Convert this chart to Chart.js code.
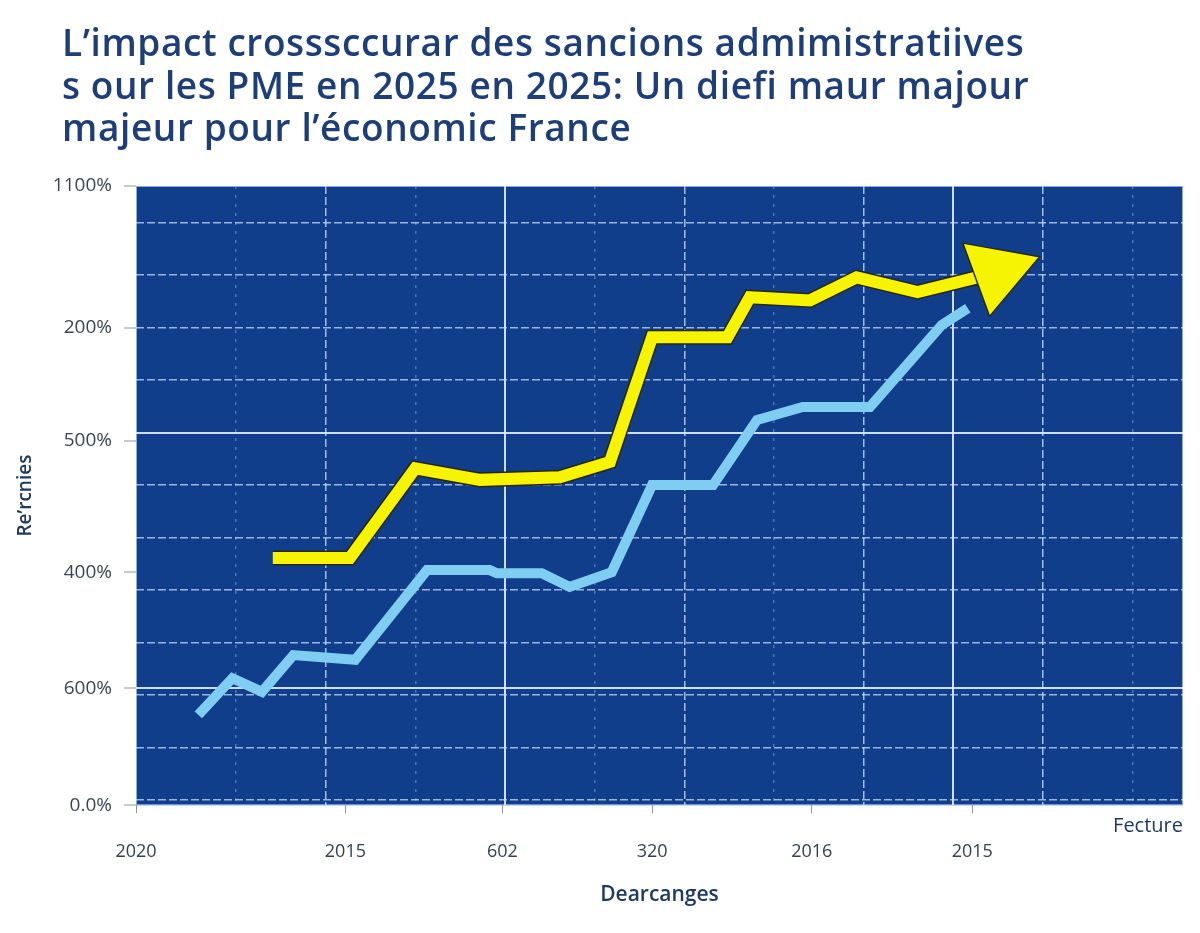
<!DOCTYPE html>
<html lang="fr">
<head>
<meta charset="utf-8">
<title>Sanctions administratives PME 2025</title>
<script src="https://cdn.jsdelivr.net/npm/chart.js@4.4.1/dist/chart.umd.min.js"></script>
<style>
  html, body { margin: 0; padding: 0; background: #ffffff; overflow: hidden; }
  #wrap { position: relative; width: 1200px; height: 933px; }
  #wrap canvas { display: block; }
  #chartTitle {
    position: absolute; left: 62px; top: 21px; margin: 0;
    font-family: 'Open Sans', 'Noto Sans', sans-serif;
    font-size: 37px; font-weight: 600; line-height: 42.5px; letter-spacing: 0.6px;
    color: #1d3e78; white-space: nowrap;
  }
</style>
</head>
<body>
<div id="wrap">
  <canvas id="impactChart" width="1200" height="933"></canvas>
  <h1 id="chartTitle"></h1>
</div>
<script>
// Chart data
const titleLines = [
  'L’impact crosssccurar des sancions admimistratiives',
  's our les PME en 2025 en 2025: Un diefi maur majour',
  'majeur pour l’économic France'
];
const xTickValues = [-0.115, 2.22, 3.97, 5.64, 7.42, 9.21];
const xTickLabels = ['2020', '2015', '602', '320', '2016', '2015'];
const yTickValues = [-0.1, 2.13, 4.34, 6.84, 9.0, 11.7];
const yTickLabels = ['0.0%', '600%', '400%', '500%', '200%', '1100%'];

const blueX = [0.58, 0.96, 1.29, 1.64, 2.33, 3.13, 3.83, 3.91, 4.41, 4.72, 5.19, 5.64, 6.32, 6.81, 7.32, 8.07, 8.87, 9.16];
const blueY = [1.62, 2.32, 2.06, 2.76, 2.67, 4.38, 4.38, 4.32, 4.32, 4.06, 4.34, 6.00, 6.00, 7.24, 7.49, 7.49, 9.05, 9.37];

const yellowX = [1.41, 2.27, 3.00, 3.72, 4.61, 5.17, 5.64, 6.48, 6.73, 7.40, 7.92, 8.60, 9.22, 9.49];
const yellowY = [4.61, 4.61, 6.32, 6.10, 6.15, 6.44, 8.82, 8.82, 9.58, 9.52, 9.96, 9.68, 9.94, 10.06];

const FONT = "'Open Sans', 'Noto Sans', sans-serif";
const lastYellow = yellowX.length - 1;

document.getElementById('chartTitle').innerHTML = titleLines.join('<br>');

function toPoints(xs, ys) {
  return xs.map((x, i) => ({ x: x, y: ys[i] }));
}

// Plot area background
const plotBackground = {
  id: 'plotBackground',
  beforeDraw(chart) {
    const { ctx, chartArea: a } = chart;
    ctx.save();
    ctx.fillStyle = '#113e8b';
    ctx.fillRect(a.left, a.top, a.width, a.height);
    ctx.strokeStyle = 'rgba(170, 200, 240, 0.8)';
    ctx.lineWidth = 1;
    ctx.strokeRect(a.left + 0.5, a.top + 0.5, a.width - 1, a.height - 1);
    ctx.restore();
  }
};

// Grid styles
function isSolidColumn(c) {
  return c.tick && (c.tick.value === 4 || c.tick.value === 9);
}
function verticalGridColor(c) {
  const v = c.tick ? c.tick.value : 0;
  if (isSolidColumn(c)) return 'rgba(225, 238, 255, 0.9)';
  if (v % 2 === 1) return 'rgba(150, 185, 235, 0.45)';
  return 'rgba(200, 222, 250, 0.8)';
}
function verticalGridDash(c) {
  const v = c.tick ? c.tick.value : 0;
  if (isSolidColumn(c)) return [];
  if (v % 2 === 1) return [3, 6];
  return [8, 3];
}

Chart.defaults.font.family = FONT;

new Chart(document.getElementById('impactChart'), {
  type: 'line',
  data: {
    datasets: [
      {
        label: 'Série jaune',
        data: toPoints(yellowX, yellowY),
        borderColor: '#f6f400',
        borderWidth: 12,
        order: 1,
        pointStyle: 'triangle',
        rotation: 70,
        pointRadius: (c) => c.dataIndex === lastYellow ? 45 : 0,
        pointBackgroundColor: '#f6f400',
        pointBorderColor: '#2b2a12',
        pointBorderWidth: 1.5
      },
      {
        label: 'Contour',
        data: toPoints(yellowX, yellowY),
        borderColor: '#26261a',
        borderWidth: 15,
        pointRadius: 0,
        order: 2
      },
      {
        label: 'Série bleue',
        data: toPoints(blueX, blueY),
        borderColor: '#80cdf2',
        borderWidth: 10,
        pointRadius: 0,
        order: 3
      }
    ]
  },
  options: {
    responsive: false,
    animation: false,
    layout: { autoPadding: false, padding: { left: 14, right: 17, top: 186, bottom: 25 } },
    plugins: {
      legend: { display: false },
      tooltip: { enabled: false },
      title: { display: false }
    },
    scales: {
      xGrid: {
        type: 'linear',
        position: 'bottom',
        weight: -1,
        min: -0.115,
        max: 11.56,
        afterBuildTicks: (s) => { s.ticks = Array.from({ length: 11 }, (_, k) => ({ value: k + 1 })); },
        afterFit: (s) => { s.height = 0; },
        ticks: { display: false },
        grid: {
          drawTicks: false,
          color: verticalGridColor,
          lineWidth: (c) => isSolidColumn(c) ? 2 : 1.5
        },
        border: { display: false, dash: verticalGridDash },
        title: {
          display: true,
          text: 'Fecture',
          align: 'end',
          color: '#1d3a63',
          font: { family: FONT, size: 20, weight: '500' },
          padding: { top: 0, bottom: -33 }
        }
      },
      x: {
        type: 'linear',
        position: 'bottom',
        min: -0.115,
        max: 11.56,
        afterBuildTicks: (s) => { s.ticks = xTickValues.map(v => ({ value: v })); },
        ticks: {
          autoSkip: false,
          maxRotation: 0,
          padding: 28,
          color: '#34414f',
          font: { family: FONT, size: 18 },
          callback: (v, i) => xTickLabels[i]
        },
        grid: {
          drawOnChartArea: false,
          tickLength: 8,
          tickWidth: 1,
          tickColor: '#8d96a0'
        },
        border: { display: false },
        title: {
          display: true,
          text: 'Dearcanges',
          color: '#1d3a63',
          font: { family: FONT, size: 21, weight: '600' },
          padding: { top: -8, bottom: 0 }
        }
      },
      y: {
        type: 'linear',
        position: 'left',
        min: -0.1,
        max: 11.7,
        afterBuildTicks: (s) => { s.ticks = yTickValues.map(v => ({ value: v })); },
        afterFit: (s) => { s.width = 122; },
        ticks: {
          autoSkip: false,
          padding: 12,
          color: '#3a4654',
          font: { family: FONT, size: 19 },
          callback: (v, i) => yTickLabels[i]
        },
        grid: {
          tickLength: 12,
          tickWidth: 1,
          tickColor: '#8d96a0',
          lineWidth: 2,
          color: (c) => c.index === 1 ? 'rgba(225, 238, 255, 0.9)' : 'rgba(0,0,0,0)'
        },
        border: { display: false },
        title: {
          display: true,
          text: 'Re’rcnies',
          color: '#1d3a63',
          font: { family: FONT, size: 19, weight: '600' },
          padding: { top: 0, bottom: 0 }
        }
      },
      yGrid: {
        type: 'linear',
        position: 'left',
        min: -0.1,
        max: 11.7,
        afterBuildTicks: (s) => { s.ticks = Array.from({ length: 12 }, (_, k) => ({ value: k })); },
        afterFit: (s) => { s.width = 0; },
        ticks: { display: false },
        grid: {
          drawTicks: false,
          color: (c) => (c.tick && c.tick.value === 7) ? 'rgba(225, 238, 255, 0.9)' : 'rgba(200, 222, 250, 0.75)',
          lineWidth: (c) => (c.tick && c.tick.value === 7) ? 2 : 1.5
        },
        border: { display: false, dash: (c) => (c.tick && c.tick.value === 7) ? [] : [8, 3] }
      }
    }
  },
  plugins: [plotBackground]
});
</script>
</body>
</html>
